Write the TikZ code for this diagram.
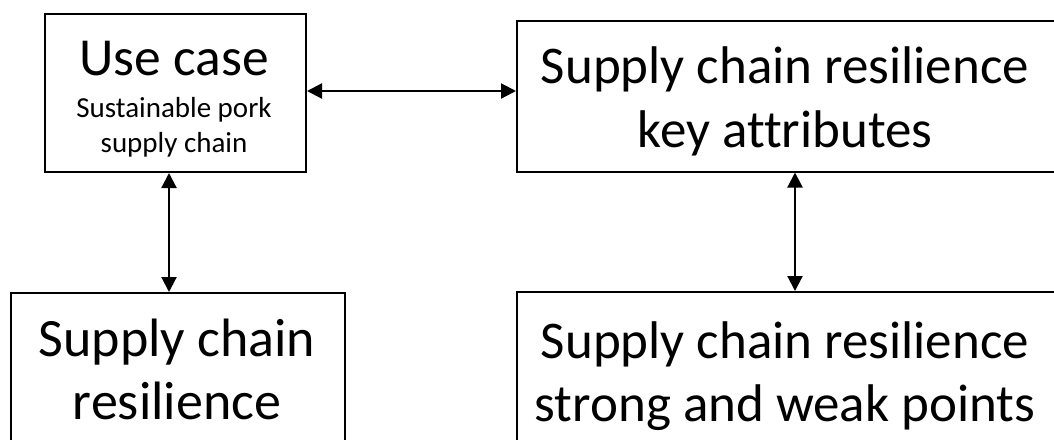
\documentclass[tikz,border=0pt]{standalone}
\usepackage{fontspec}
\setmainfont{Carlito}[Ligatures={NoCommon}]
\usetikzlibrary{arrows.meta}
\begin{document}
\begin{tikzpicture}[x=1pt,y=-1pt,
  box/.style={draw=black,line width=2pt,rectangle,inner sep=0pt,anchor=north west},
  txt/.style={align=center,inner sep=0pt,anchor=base},
  link/.style={line width=2.2pt,{Triangle[length=15pt,width=15pt]}-{Triangle[length=15pt,width=15pt]}}]
\useasboundingbox (0,0) rectangle (1054,439);
\clip (0,0) rectangle (1054,439);
\fill[white] (0,0) rectangle (1054,439);
\node[box,minimum width=261pt,minimum height=158pt] (b1) at (44,13) {};
\node[box,minimum width=548pt,minimum height=151pt] (b2) at (516,19.5) {};
\node[box,minimum width=334pt,minimum height=180pt] (b3) at (10,292) {};
\node[box,minimum width=548pt,minimum height=180pt] (b4) at (516,291) {};
\node[txt,font=\fontsize{53.5}{64}\selectfont] (t1) at (174,75) {Use case};
\node[txt,font=\fontsize{29}{35}\selectfont] (t1s) at (174,152) {Sustainable pork\\supply chain};
\node[txt,font=\fontsize{53}{64}\selectfont] (t2) at (785,147) {Supply chain resilience\\key attributes};
\node[txt,font=\fontsize{54}{63}\selectfont] (t3) at (177,419) {Supply chain\\resilience};
\node[txt,font=\fontsize{53}{63}\selectfont] (t4) at (785,421) {Supply chain resilience\\strong and weak points};
\draw[link] ([yshift=2pt]b1.east) -- ([yshift=2pt]b1.east -| b2.west);
\draw[link] ([xshift=-6.5pt]b1.south) -- ([xshift=-6.5pt]b1.south |- b3.north);
\draw[link] ([xshift=279pt]b2.south west) -- ([xshift=279pt]b2.south west |- b4.north);
\end{tikzpicture}
\end{document}
